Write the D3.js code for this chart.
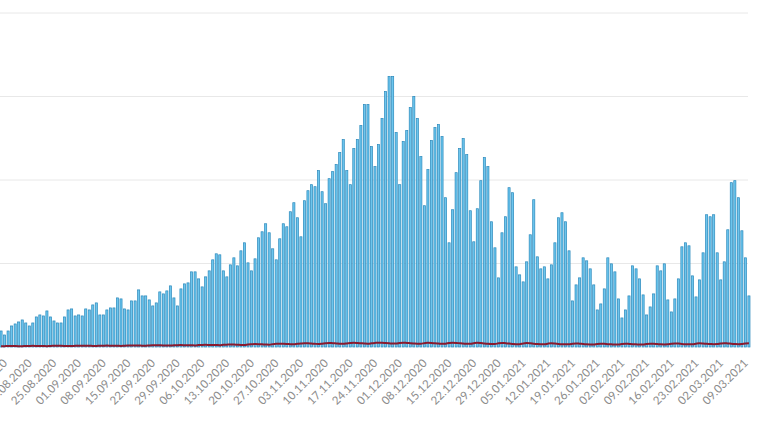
<!DOCTYPE html>
<html><head><meta charset="utf-8">
<script src="https://cdn.jsdelivr.net/npm/d3@7"></script>
<style>body{margin:0;background:#fff}svg{display:block}</style>
</head><body>
<svg id="c" width="770" height="432"></svg>
<script>
const startDate = "11.08.2020";
const cases = [960,720,960,1260,1380,1500,1620,1440,1260,1440,1800,1920,1860,2160,1800,1560,1440,1440,1800,2220,2280,1860,1920,1860,2280,2220,2520,2640,1920,1920,2220,2340,2340,2940,2880,2280,2220,2760,2760,3420,3060,3060,2820,2460,2640,3300,3180,3360,3660,2940,2460,3480,3780,3840,4500,4500,4080,
3600,4200,4560,5220,5580,5520,4560,4200,4920,5340,4860,5760,6240,5040,4560,5280,6540,6900,7380,6840,5880,5220,6480,7380,7200,8100,8640,7740,6600,8760,9360,9720,9600,10560,9300,8580,10080,10500,10920,11640,12420,10560,9720,11880,12420,13260,14520,14520,12000,10800,12120,13680,15300,16200,16200,
12840,9720,12300,12960,14340,15000,13680,11400,8460,10620,12360,13140,13320,12600,8940,6240,8220,10440,11880,12480,11520,8160,6300,8280,9960,11340,10800,7500,5940,4140,6840,7800,9540,9240,4800,4320,3900,5100,6720,8820,5400,4680,4800,4080,4920,6240,7740,8040,7500,5760,2760,3720,4140,
5340,5160,4680,3720,2220,2580,3480,5340,4980,4500,2880,1740,2220,3060,4860,4680,4080,3120,1920,2400,3180,4860,4560,4980,2820,2100,2880,4080,6000,6240,6060,4260,3000,4020,5640,7920,7800,7920,5640,4020,5100,7020,9840,9960,8940,6960,5340,3060];
const deaths = [40,50,60,60,55,50,45, 60,65,70,65,60,55,50, 65,70,75,70,65,60,55, 70,75,80,75,70,65,60, 75,80,85,80,75,70,65,
80,90,95,90,85,80,75, 90,100,105,100,95,90,85, 100,110,115,110,105,100,95, 115,125,130,125,120,115,110, 130,140,150,145,135,125,120,
150,165,175,170,160,150,140, 170,190,200,195,185,170,160, 190,210,225,220,205,190,180, 200,225,240,230,215,200,190, 210,235,250,240,225,210,200,
220,245,260,250,235,220,205, 210,240,255,245,230,215,200, 200,230,250,240,220,205,190, 200,235,255,245,225,205,190, 190,230,260,240,210,190,180,
180,220,245,230,205,185,170, 170,215,235,220,195,175,165, 165,200,220,205,185,170,160, 160,195,215,200,180,165,155, 150,185,200,190,170,160,150,
150,180,195,185,170,160,150, 155,185,200,190,175,160,155, 160,195,215,205,185,170,160, 165,200,225,210,190,180,170, 175,210,230,215,195,180,170,
180,215,220,200,185,175,165];
const gridValues = [5000,10000,15000,20000];

const parse = d3.timeParse("%d.%m.%Y"), fmt = d3.timeFormat("%d.%m.%Y");
const t0 = parse(startDate);
const dates = cases.map((_, i) => d3.timeDay.offset(t0, i));
const svg = d3.select("#c");
const x = d3.scaleBand().domain(dates.map(d=>+d)).range([0, 750]).paddingInner(0.4);
const y = d3.scaleLinear().domain([0, 20000]).range([347, 13]);

svg.append("g").selectAll("line").data(gridValues).join("line")
  .attr("x1", 0).attr("x2", 748).attr("y1", d=>y(d)).attr("y2", d=>y(d))
  .attr("stroke", "#e8e8e8").attr("stroke-width", 1);

svg.append("g").selectAll("rect").data(cases).join("rect")
  .attr("x", (d,i)=>x(+dates[i])).attr("width", x.bandwidth())
  .attr("y", d=>y(d)).attr("height", d=>y(0)-y(d))
  .attr("fill", "#6cc6ee").attr("stroke", "#2a88bb").attr("stroke-width", 0.7);

const line = d3.line().x((d,i)=>x(+dates[i]) + x.bandwidth()/2).y(d=>y(d)).curve(d3.curveMonotoneX);
svg.append("path").datum(deaths.slice(0, cases.length)).attr("d", line).attr("fill","none")
  .attr("stroke", "#8a1a2e").attr("stroke-width", 2);

const tickDates = dates.filter((d,i)=> i % 7 === 0);
svg.append("g").selectAll("text").data(tickDates).join("text")
  .attr("transform", d=>`translate(${x(+d) + x.bandwidth()/2 + 4},361) rotate(-45)`)
  .attr("text-anchor", "end").attr("dy", "0.35em")
  .attr("font-family", "Lato, 'Open Sans', sans-serif").attr("font-size", 11.5)
  .attr("fill", "#8c8c8c").text(d=>fmt(d));
</script>
</body></html>
